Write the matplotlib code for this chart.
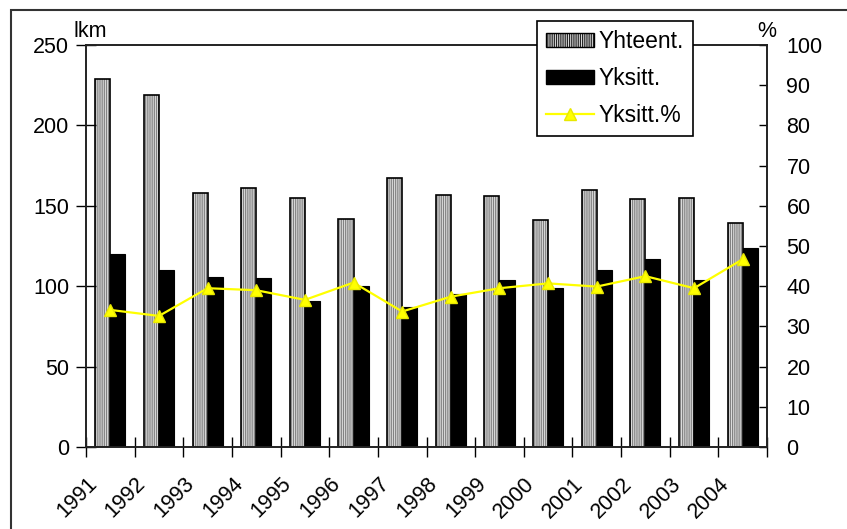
import numpy as np
import matplotlib
matplotlib.use('Agg')
import matplotlib.pyplot as plt
import matplotlib.transforms as mtransforms
from matplotlib.patches import Patch, Rectangle
from matplotlib.lines import Line2D

plt.rcParams['font.family'] = ['Liberation Sans', 'DejaVu Sans']
plt.rcParams['hatch.linewidth'] = 0.6

# vuosittaiset luvut
years = [str(y) for y in range(1991, 2005)]
yhteent = [229, 219, 158, 161, 155, 142, 167, 157, 156, 141, 160, 154, 155, 139]
yksitt = [120, 110, 106, 105, 91, 100, 87, 95, 104, 99, 110, 117, 104, 124]
yksitt_pct = [34.1, 32.6, 39.5, 39.0, 36.6, 40.9, 33.7, 37.4, 39.5, 40.7, 39.9, 42.5, 39.5, 46.7]

fs = 15.5
x = np.arange(len(years))
w = 0.31

fig = plt.figure(figsize=(8.47, 5.29), dpi=100)
ax = fig.add_axes([86 / 847, 82 / 529, 681 / 847, 402 / 529])
ax2 = ax.twinx()

# yhteenlasketut: harmaa raidoitus + musta reuna
ax.bar(x - w / 2, yhteent, w, color='#dcdcdc', edgecolor='#707070', hatch='|' * 9, linewidth=0)
ax.bar(x - w / 2, yhteent, w, facecolor='none', edgecolor='black', linewidth=1.2)
ax.bar(x + w / 2, yksitt, w, color='black', edgecolor='black', linewidth=0.8)

ax2.plot(x, yksitt_pct, color='#ffff00', lw=1.6, marker='^', markersize=9,
         markerfacecolor='#ffff00', markeredgecolor='#e8e800')

ax.set_xlim(-0.5, len(years) - 0.5)
ax.set_ylim(0, 250)
ax2.set_ylim(0, 100)

ax.set_yticks(range(0, 251, 50))
ax2.set_yticks(range(0, 101, 10))

ax.tick_params(axis='y', direction='inout', length=14, width=1, labelsize=fs, pad=5, colors='black')
ax2.tick_params(axis='y', direction='in', length=6, width=1, labelsize=fs, pad=14)

# kategoriarajat väliviivoina, vuosiluvut kategorian kohdalle
ax.set_xticks(np.arange(-0.5, len(years)), minor=True)
ax.tick_params(axis='x', which='minor', direction='inout', length=14, width=1)
ax.set_xticks(x)
ax.set_xticklabels(years, rotation=45, ha='right', fontsize=fs)
ax.tick_params(axis='x', which='major', length=0, pad=19)
shift = mtransforms.ScaledTranslation(-9 / 100, 0, fig.dpi_scale_trans)
for lab in ax.get_xticklabels():
    lab.set_transform(lab.get_transform() + shift)

for a in (ax, ax2):
    for s in a.spines.values():
        s.set_linewidth(1.2)
        s.set_color('#222222')

fig.text(73 / 847, 1 - 37 / 529, 'lkm', fontsize=fs, ha='left', va='baseline')
fig.text(767 / 847, 1 - 37 / 529, '%', fontsize=fs, ha='center', va='baseline')

handles = [
    Patch(facecolor='#dcdcdc', edgecolor='black', hatch='|' * 9, linewidth=1),
    Patch(facecolor='black', edgecolor='black'),
    Line2D([], [], color='#ffff00', lw=1.6, marker='^', markersize=9,
           markerfacecolor='#ffff00', markeredgecolor='#e8e800'),
]
leg = fig.legend(handles, ['Yhteent.', 'Yksitt.', 'Yksitt.%'], loc='upper left',
                 bbox_to_anchor=(537 / 847, 1 - 21 / 529), fontsize=16.5, frameon=True,
                 fancybox=False, edgecolor='black', framealpha=1, borderpad=0.4,
                 handlelength=2.1, handleheight=0.6, handletextpad=0.2,
                 labelspacing=0.6, borderaxespad=0)
leg.get_frame().set_linewidth(1.2)

# ulkokehys
fig.add_artist(Rectangle((11 / 847, -0.1), 1.2, 1 - 10 / 529 + 0.1, transform=fig.transFigure,
                         fill=False, edgecolor='#333333', linewidth=1.5, clip_on=False))

fig.savefig('out.png', dpi=100)
